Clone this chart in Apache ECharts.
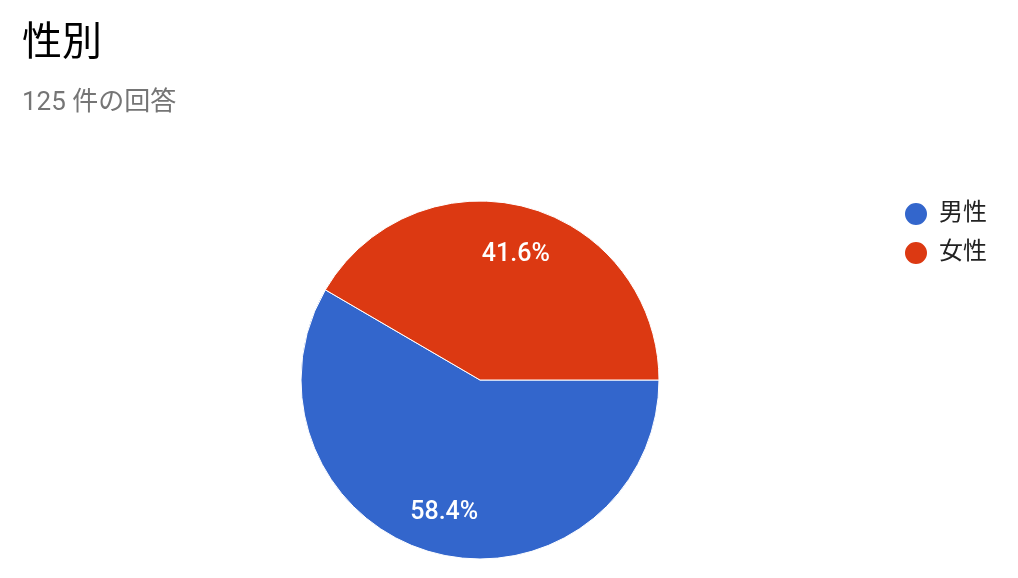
<!DOCTYPE html>
<html>
<head>
<meta charset="utf-8">
<script src="https://cdn.jsdelivr.net/npm/echarts@6/dist/echarts.min.js"></script>
<style>
html, body { margin: 0; padding: 0; background: #fff; }
#chart { width: 1018px; height: 578px; }
</style>
</head>
<body>
<div id="chart"></div>
<script>
// 回答データ
var categories = ['男性', '女性'];
var counts = [73, 52];
var colors = ['#3366cc', '#dc3912'];
var titleText = '性別';
var subText = '125 件の回答';

var font = 'Roboto, "Noto Sans CJK JP", sans-serif';
var pieData = categories.map(function (name, i) {
    return { name: name, value: counts[i], itemStyle: { color: colors[i] } };
});

var chart = echarts.init(document.getElementById('chart'));
var option = {
    animation: false,
    title: [
        {
            text: titleText,
            left: 17, top: 20,
            textStyle: { fontFamily: font, fontSize: 40, fontWeight: 'normal', color: '#000' }
        },
        {
            text: subText,
            left: 17, top: 85,
            textStyle: { fontFamily: font, fontSize: 26, fontWeight: 'normal', color: '#757575' }
        }
    ],
    legend: {
        orient: 'vertical',
        left: 903, top: 201,
        padding: 0,
        icon: 'circle',
        itemWidth: 24, itemHeight: 24,
        itemGap: 13,
        data: categories,
        textStyle: { fontFamily: font, fontSize: 24, color: '#222', padding: [0, 0, 0, 6] }
    },
    series: [
        {
            type: 'pie',
            center: [480, 380],
            radius: [0, 179],
            startAngle: 0,
            clockwise: true,
            percentPrecision: 1,
            itemStyle: { borderColor: '#fff', borderWidth: 1 },
            label: { show: false },
            labelLine: { show: false },
            emphasis: { disabled: true },
            data: pieData
        },
        {
            // ラベル専用（外周の3/4の位置に置く）
            type: 'pie',
            center: [480, 380],
            radius: [89.5, 179],
            startAngle: 0,
            clockwise: true,
            silent: true,
            percentPrecision: 1,
            legendHoverLink: false,
            itemStyle: { color: 'rgba(0,0,0,0)', borderWidth: 0 },
            label: {
                show: true,
                position: 'inside',
                formatter: function (p) { return p.percent.toFixed(1) + '%'; },
                fontFamily: font, fontSize: 25, color: '#fff', fontWeight: 500
            },
            labelLine: { show: false },
            emphasis: { disabled: true },
            data: categories.map(function (name, i) {
                return { name: name + ' ', value: counts[i], label: { offset: [0, i === 1 ? 7 : 0] } };
            })
        }
    ]
};
chart.setOption(option);
</script>
</body>
</html>
